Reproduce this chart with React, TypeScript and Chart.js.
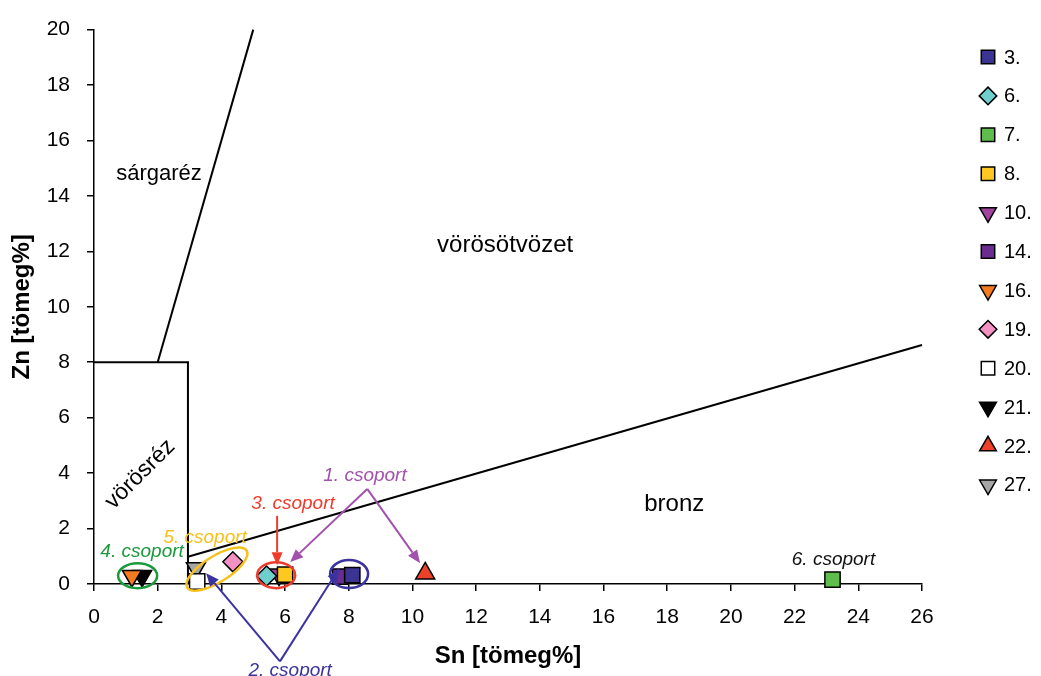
import React, { useEffect, useRef } from 'react';
import { Chart, registerables } from 'chart.js';
Chart.register(...registerables);

// ---- data ----
const seriesLabels = ['3.', '6.', '7.', '8.', '10.', '14.', '16.', '19.', '20.', '21.', '22.', '27.'];
const snValues = [8.11, 5.42, 23.19, 6.0, 5.81, 7.73, 1.19, 4.36, 3.24, 1.51, 10.4, 3.2];
const znValues = [0.32, 0.29, 0.16, 0.34, 0.34, 0.27, 0.29, 0.8, 0.09, 0.29, 0.38, 0.57];
const seriesColors = ['#3b3492', '#6fcfcc', '#5ebd4c', '#ffc820', '#a0449e', '#6a2c91', '#f47b20', '#f391c2', '#ffffff', '#000000', '#ee4129', '#a6a6a6'];
const seriesShapes = ['rect', 'rectRot', 'rect', 'rect', 'triDown', 'rect', 'triDown', 'rectRot', 'rect', 'triDown', 'triUp', 'triDown'];

const xTicks = [0, 2, 4, 6, 8, 10, 12, 14, 16, 18, 20, 22, 24, 26];
const yTicks = [0, 2, 4, 6, 8, 10, 12, 14, 16, 18, 20];

// boundary lines of the alloy regions
const boundaryLines = [
  { sn: [2, 5], zn: [8, 20] },
  { sn: [0, 2.95, 2.95], zn: [8, 8, 0] },
  { sn: [2.95, 26], zn: [0.98, 8.62] },
];

const regionLabels = ['sárgaréz', 'vörösötvözet', 'bronz', 'vörösréz'];
const regionLabelSn = [2.04, 12.91, 18.22, 1.45];
const regionLabelZn = [14.79, 12.21, 2.89, 3.96];
const regionLabelAngle = [0, 0, 0, -45];

const groupLabels = ['1. csoport', '2. csoport', '3. csoport', '4. csoport', '5. csoport', '6. csoport'];
const groupLabelSn = [8.51, 6.16, 6.25, 1.51, 3.49, 23.22];
const groupLabelZn = [3.89, -3.14, 2.89, 1.18, 1.68, 0.86];
const groupColors = ['#a251ad', '#3b33a0', '#ee3b2a', '#1b9a3c', '#f7c11c', '#111111'];

// ellipses around groups (centre in data units)
const ellipseSn = [1.37, 3.86, 5.72, 8.01];
const ellipseZn = [0.30, 0.54, 0.32, 0.36];
const ellipseColors = ['#1b9a3c', '#f7c11c', '#ee3b2a', '#3b33a0'];

// arrows: from -> to
const arrowFromSn = [5.75, 8.58, 8.58, 5.84, 5.84];
const arrowFromZn = [2.46, 3.43, 3.43, -2.79, -2.79];
const arrowToSn = [5.75, 6.16, 10.24, 3.52, 7.70];
const arrowToZn = [0.68, 0.79, 0.75, 0.39, 0.57];
const arrowColors = ['#ee3b2a', '#a251ad', '#a251ad', '#3b33a0', '#3b33a0'];

const FONT = '"Liberation Sans", Arial, sans-serif';

function styleFor(shape: string) {
  if (shape === 'rect') return { pointStyle: 'rect', radius: 10.8, rotation: 0 };
  if (shape === 'rectRot') return { pointStyle: 'rectRot', radius: 10, rotation: 0 };
  if (shape === 'triDown') return { pointStyle: 'triangle', radius: 11, rotation: 180 };
  return { pointStyle: 'triangle', radius: 11, rotation: 0 };
}

function drawMarker(ctx: CanvasRenderingContext2D, shape: string, x: number, y: number, r: number, fill: string) {
  ctx.save();
  ctx.fillStyle = fill;
  ctx.strokeStyle = '#000';
  ctx.lineWidth = 1.5;
  ctx.beginPath();
  if (shape === 'rect') {
    const s = r * Math.SQRT1_2;
    ctx.rect(x - s, y - s, 2 * s, 2 * s);
  } else if (shape === 'rectRot') {
    ctx.moveTo(x, y - r);
    ctx.lineTo(x + r, y);
    ctx.lineTo(x, y + r);
    ctx.lineTo(x - r, y);
    ctx.closePath();
  } else {
    const dir = shape === 'triDown' ? -1 : 1;
    const h = r * Math.sqrt(3) / 2;
    ctx.moveTo(x, y - dir * r);
    ctx.lineTo(x + h, y + dir * r / 2);
    ctx.lineTo(x - h, y + dir * r / 2);
    ctx.closePath();
  }
  ctx.fill();
  ctx.stroke();
  ctx.restore();
}

const annotationPlugin = {
  id: 'annotations',
  afterDatasetsDraw(chart: any) {
    const { ctx } = chart;
    const xs = chart.scales.x;
    const ys = chart.scales.y;
    const px = (v: number) => xs.getPixelForValue(v);
    const py = (v: number) => ys.getPixelForValue(v);
    ctx.save();
    ctx.fillStyle = '#000';
    ctx.textAlign = 'center';
    ctx.textBaseline = 'middle';
    regionLabels.forEach((t, i) => {
      ctx.save();
      ctx.translate(px(regionLabelSn[i]), py(regionLabelZn[i]));
      ctx.rotate((regionLabelAngle[i] * Math.PI) / 180);
      ctx.font = `${i === 0 ? 22 : i === 3 ? 23 : 24}px ${FONT}`;
      ctx.fillText(t, 0, 0);
      ctx.restore();
    });
    const ellR = [[19.5, 12.5, 0], [35, 13, -32], [19, 13, 0], [19, 14, 0]];
    ellipseSn.forEach((s, i) => {
      ctx.beginPath();
      ctx.strokeStyle = ellipseColors[i];
      ctx.lineWidth = 2.5;
      ctx.ellipse(px(s), py(ellipseZn[i]), ellR[i][0], ellR[i][1], (ellR[i][2] * Math.PI) / 180, 0, Math.PI * 2);
      ctx.stroke();
    });
    arrowFromSn.forEach((s, i) => {
      const x1 = px(s), y1 = py(arrowFromZn[i]);
      const x2 = px(arrowToSn[i]), y2 = py(arrowToZn[i]);
      const ang = Math.atan2(y2 - y1, x2 - x1);
      const hl = 13, hw = 5.5;
      const bx = x2 - hl * Math.cos(ang), by = y2 - hl * Math.sin(ang);
      ctx.strokeStyle = arrowColors[i];
      ctx.fillStyle = arrowColors[i];
      ctx.lineWidth = 2;
      ctx.beginPath();
      ctx.moveTo(x1, y1);
      ctx.lineTo(bx, by);
      ctx.stroke();
      ctx.beginPath();
      ctx.moveTo(x2, y2);
      ctx.lineTo(bx + hw * Math.sin(ang), by - hw * Math.cos(ang));
      ctx.lineTo(bx - hw * Math.sin(ang), by + hw * Math.cos(ang));
      ctx.closePath();
      ctx.fill();
    });
    ctx.font = `italic 19px ${FONT}`;
    groupLabels.forEach((t, i) => {
      ctx.fillStyle = groupColors[i];
      ctx.fillText(t, px(groupLabelSn[i]), py(groupLabelZn[i]));
    });
    ctx.restore();
  },
  afterDraw(chart: any) {
    const { ctx } = chart;
    ctx.save();
    ctx.font = `20px ${FONT}`;
    ctx.textAlign = 'left';
    ctx.textBaseline = 'middle';
    seriesLabels.forEach((lab, i) => {
      const y = 57 + i * 38.9;
      const st = styleFor(seriesShapes[i]);
      drawMarker(ctx, seriesShapes[i], 988, y, st.radius * 0.88, seriesColors[i]);
      ctx.fillStyle = '#000';
      ctx.fillText(lab, 1004, y + 1);
    });
    ctx.restore();
  },
};

export default function App() {
  const ref = useRef<HTMLCanvasElement | null>(null);
  useEffect(() => {
    document.body.style.margin = '0';
    if (!ref.current) return;
    const pointSets = seriesLabels.map((lab, i) => {
      const st = styleFor(seriesShapes[i]);
      return {
        type: 'scatter' as const,
        label: lab,
        data: [{ x: snValues[i], y: znValues[i] }],
        backgroundColor: seriesColors[i],
        borderColor: '#000',
        borderWidth: 1.5,
        pointStyle: st.pointStyle,
        pointRadius: st.radius,
        pointHoverRadius: st.radius,
        rotation: st.rotation,
        clip: false as any,
      };
    });
    const lineSets = boundaryLines.map((l, i) => ({
      type: 'scatter' as const,
      label: 'boundary' + i,
      data: l.sn.map((s, j) => ({ x: s, y: l.zn[j] })),
      showLine: true,
      borderColor: '#000',
      borderWidth: 2,
      pointRadius: 0,
      fill: false,
      tension: 0,
      clip: false as any,
    }));
    const chart = new Chart(ref.current, {
      type: 'scatter',
      data: { datasets: [...pointSets, ...lineSets] as any },
      options: {
        animation: false,
        responsive: true,
        maintainAspectRatio: false,
        layout: { padding: { top: 24, right: 119, left: 0, bottom: 0 } },
        plugins: { legend: { display: false }, tooltip: { enabled: false } },
        scales: {
          x: {
            type: 'linear',
            min: 0,
            max: 26,
            afterFit: (s: any) => { s.height = 92; },
            afterBuildTicks: (s: any) => { s.ticks = xTicks.map((v) => ({ value: v })); },
            ticks: { color: '#000', font: { family: FONT, size: 21 }, padding: 14 },
            grid: { display: true, drawOnChartArea: false, drawTicks: true, tickLength: 7, color: '#000', lineWidth: 1.5 },
            border: { display: true, color: '#000', width: 1.5 },
            title: { display: true, text: 'Sn [tömeg%]', color: '#000', font: { family: FONT, size: 24, weight: 'bold' }, padding: { top: 0, bottom: 5 } },
          },
          y: {
            type: 'linear',
            min: 0,
            max: 20,
            afterFit: (s: any) => { s.width = 94; },
            afterBuildTicks: (s: any) => { s.ticks = yTicks.map((v) => ({ value: v })); },
            ticks: { color: '#000', font: { family: FONT, size: 21 }, padding: 17 },
            grid: { display: true, drawOnChartArea: false, drawTicks: true, tickLength: 7, color: '#000', lineWidth: 1.5 },
            border: { display: true, color: '#000', width: 1.5 },
            title: { display: true, text: 'Zn [tömeg%]', color: '#000', font: { family: FONT, size: 24, weight: 'bold' }, padding: { top: 8, bottom: 0 } },
          },
        },
      } as any,
      plugins: [annotationPlugin],
    });
    return () => chart.destroy();
  }, []);
  return (
    <div style={{ width: 1041, height: 676, position: 'relative', background: '#fff' }}>
      <canvas ref={ref} />
    </div>
  );
}
